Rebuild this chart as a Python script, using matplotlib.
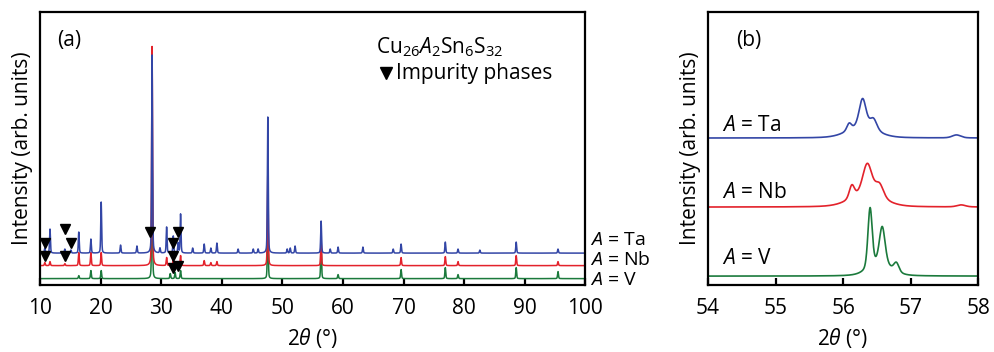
import numpy as np
import matplotlib.pyplot as plt

# ---- data (heights, arbitrary units) ----
SERIES = ['Ta', 'Nb', 'V']
COLORS = {'Ta': '#3346a6', 'Nb': '#e3222b', 'V': '#1b7a3c'}

# panel (a): full pattern, 2theta peak positions and heights above baseline
ta_pos = [10.8, 11.65, 14.1, 15.1, 16.4, 18.4, 20.1, 23.3, 26.0, 28.5, 29.8, 30.9, 32.0,
          32.8, 33.2, 35.2, 37.1, 38.2, 39.2, 42.7, 45.2, 46.0, 47.6, 50.8, 51.3, 52.1,
          56.4, 57.9, 59.2, 63.3, 68.3, 69.6, 76.9, 79.0, 82.6, 88.6, 95.5]
ta_h = [5, 24, 4, 3, 21, 14, 51, 8, 7, 198, 5, 26, 17,
        10, 39, 5, 9, 5, 10, 4, 4, 4, 136, 4, 5, 7,
        32, 4, 6, 6, 4, 9, 11, 4, 3, 11, 4]
nb_pos = [10.8, 11.65, 14.1, 16.4, 18.4, 20.1, 28.5, 30.9, 32.0, 33.2, 37.1, 38.2, 39.2,
          47.6, 56.4, 69.6, 76.9, 79.0, 88.6, 95.5]
nb_h = [3, 4, 2, 13, 13, 13, 219, 8, 6, 10, 5, 3, 4,
        90, 25, 8, 9, 4, 10, 4]
v_pos = [16.4, 18.4, 20.1, 28.5, 31.5, 32.3, 33.2, 47.6, 56.4, 59.2, 69.6, 76.9, 79.0, 88.6, 95.5]
v_h = [3, 8, 8, 120, 5, 6, 8, 60, 36, 4, 9, 11, 4, 11, 7]
base_a = {'Ta': 32, 'Nb': 19.5, 'V': 6.5}

# impurity markers (2theta, intensity)
imp_x = [10.8, 14.1, 15.1, 28.2, 32.0, 32.8, 10.8, 14.1, 31.9, 31.9, 32.8]
imp_y = [42, 56, 42, 53, 42, 53, 29, 29, 29, 17, 19]

# panel (b): zoom on the 56 deg reflection (position, height, fwhm)
ta_pos_b = [56.09, 56.29, 56.45, 56.28, 57.68]
ta_h_b = [7, 28, 11, 11, 3]
ta_w_b = [0.08, 0.12, 0.12, 0.50, 0.15]
nb_pos_b = [56.13, 56.36, 56.54, 56.35, 57.75]
nb_h_b = [13, 30, 13, 13, 2]
nb_w_b = [0.09, 0.16, 0.14, 0.55, 0.15]
v_pos_b = [56.40, 56.58, 56.79, 56.55]
v_h_b = [60, 37, 9, 12]
v_w_b = [0.075, 0.10, 0.09, 0.38]
base_b = {'Ta': 147, 'Nb': 78, 'V': 9}

peaks_a = {'Ta': (ta_pos, ta_h), 'Nb': (nb_pos, nb_h), 'V': (v_pos, v_h)}
peaks_b = {'Ta': (ta_pos_b, ta_h_b, ta_w_b), 'Nb': (nb_pos_b, nb_h_b, nb_w_b),
           'V': (v_pos_b, v_h_b, v_w_b)}

plt.rcParams['font.family'] = ['Open Sans', 'DejaVu Sans']
plt.rcParams['mathtext.fontset'] = 'custom'
plt.rcParams['mathtext.rm'] = 'Open Sans'
plt.rcParams['mathtext.it'] = 'Open Sans:italic'


def pattern(x, pos, h, fwhm, eta=0.4):
    y = np.zeros_like(x)
    fwhm = np.broadcast_to(fwhm, len(pos))
    for p, a, w in zip(pos, h, fwhm):
        g = np.exp(-4 * np.log(2) * ((x - p) / w) ** 2)
        lo = 1 / (1 + 4 * ((x - p) / w) ** 2)
        y += a * (eta * lo + (1 - eta) * g)
    return y


def style_axes(ax, xticks):
    for s in ax.spines.values():
        s.set_linewidth(1.6)
    ax.set_yticks([])
    ax.set_xticks(xticks)
    ax.tick_params(axis='x', direction='in', length=5, width=1.6, labelsize=15, pad=9)


fig = plt.figure(figsize=(9.95, 3.52), dpi=100)
ax1 = fig.add_axes([0.0402, 0.190, 0.548, 0.776])
ax2 = fig.add_axes([0.7116, 0.190, 0.2714, 0.776])

# panel (a)
x = np.arange(10, 100.001, 0.01)
for name in ['V', 'Nb', 'Ta']:
    pos, h = peaks_a[name]
    y = base_a[name] + pattern(x, pos, h, 0.17, eta=0.35)
    ax1.plot(x, y, color=COLORS[name], lw=1.1)
ax1.plot(imp_x, imp_y, 'v', color='black', ms=7, ls='none')
ax1.set_xlim(10, 100)
ax1.set_ylim(0, 273)
style_axes(ax1, range(10, 101, 10))
ax1.set_xlabel(r'2$\it{\theta}$ (°)', fontsize=15, labelpad=5)
ax1.set_ylabel('Intensity (arb. units)', fontsize=15, labelpad=5)
ax1.text(0.031, 0.875, '(a)', transform=ax1.transAxes, fontsize=15)
ax1.text(0.616, 0.85, r'Cu$_{26}$$\it{A}$$_{2}$Sn$_{6}$S$_{32}$', transform=ax1.transAxes, fontsize=15)
ax1.plot([0.634], [0.775], 'v', color='black', ms=8, transform=ax1.transAxes)
ax1.text(0.652, 0.775, 'Impurity phases', transform=ax1.transAxes, fontsize=15, va='center')
for name, yy in zip(SERIES, [45, 25, 5]):
    ax1.text(1.008, yy, r'$\it{A}$ = ' + name, transform=ax1.get_yaxis_transform(),
             fontsize=14, va='center', clip_on=False)

# panel (b)
xb = np.arange(54, 58.0001, 0.002)
for name in ['V', 'Nb', 'Ta']:
    pos, h, w = peaks_b[name]
    y = base_b[name] + pattern(xb, pos, h, w, eta=0.3)
    ax2.plot(xb, y, color=COLORS[name], lw=1.2)
ax2.set_xlim(54, 58)
ax2.set_ylim(0, 273)
style_axes(ax2, range(54, 59))
ax2.set_xlabel(r'2$\it{\theta}$ (°)', fontsize=15, labelpad=5)
ax2.set_ylabel('Intensity (arb. units)', fontsize=15, labelpad=5)
ax2.text(0.105, 0.875, '(b)', transform=ax2.transAxes, fontsize=15)
for name, yy in zip(SERIES, [160, 93, 27]):
    ax2.text(0.05, yy, r'$\it{A}$ = ' + name, transform=ax2.get_yaxis_transform(),
             fontsize=15, va='center')

fig.savefig('out.png', dpi=100)
